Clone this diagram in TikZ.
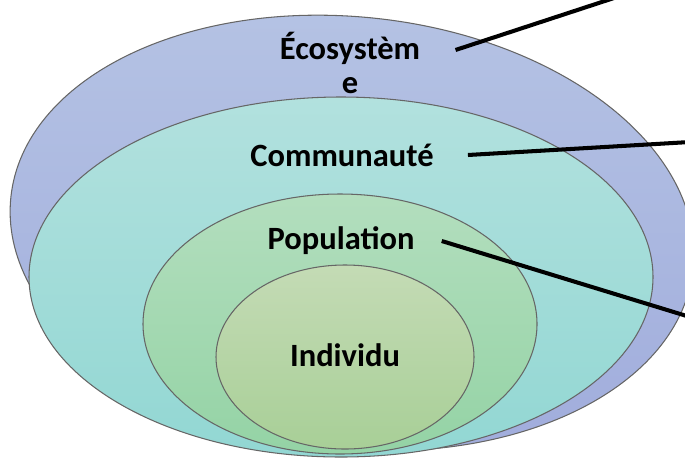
\documentclass[tikz,border=0pt]{standalone}
\usepackage{fontspec}
\setmainfont{Carlito}
\usetikzlibrary{calc}

\definecolor{ecoTop}{HTML}{B5C3E4}
\definecolor{ecoBot}{HTML}{A0ACDC}
\definecolor{comTop}{HTML}{B2E1DE}
\definecolor{comBot}{HTML}{92D7D3}
\definecolor{popTop}{HTML}{B3DEBE}
\definecolor{popBot}{HTML}{94D3A5}
\definecolor{indTop}{HTML}{C4DBB5}
\definecolor{indBot}{HTML}{A8CF97}

\tikzset{
  ring/.style={draw=black!60, line width=0.6pt},
  levelname/.style={font=\bfseries\fontsize{18.5}{19}\selectfont, inner sep=0pt, align=center},
  pointer/.style={draw=black, line width=2.3pt}
}

\begin{document}
\begin{tikzpicture}[x=0.02cm,y=-0.02cm]
    \useasboundingbox (0,0) rectangle (685,460);
    % nested levels
    \shadedraw[ring, top color=ecoTop, bottom color=ecoBot, rotate around={-6:(352,233)}] (352,233) ellipse (343 and 216);
    \shadedraw[ring, top color=comTop, bottom color=comBot] (341,277) ellipse (312 and 180);
    \shadedraw[ring, top color=popTop, bottom color=popBot] (340,324) ellipse (197 and 130);
    \shadedraw[ring, top color=indTop, bottom color=indBot] (345,357) ellipse (129 and 92);
    % names
    \node[levelname] (eco) at (350,63) {Écosystèm\\e};
    \node[levelname] (comm) at (342,155) {Communauté};
    \node[levelname] (pop) at (341,241) {Population};
    \node[levelname] (ind) at (345,355) {Individu};
    % pointers going out of the picture
    \coordinate (ecoEnd) at (614,-2);
    \coordinate (commEnd) at (690,142);
    \coordinate (popEnd) at (690,317);
    \draw[pointer] ($(eco.east)+(35,-13)$) -- (ecoEnd);
    \draw[pointer] ([xshift=0.68cm]comm.east) -- (commEnd);
    \draw[pointer] ([xshift=0.54cm]pop.east) -- (popEnd);
\end{tikzpicture}
\end{document}
